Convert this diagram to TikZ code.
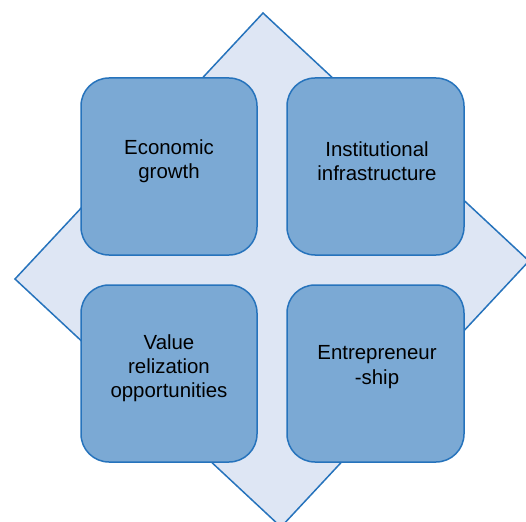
\documentclass[tikz,border=0pt]{standalone}
\usepackage{fontspec}
\setmainfont{Liberation Sans}
\begin{document}
\begin{tikzpicture}[x=1bp,y=-1bp,
  quad/.style={draw=edgeblue,line width=1.5bp,fill=boxblue,rounded corners=28bp},
  lbl/.style={align=center,font=\fontsize{20.5}{24.3}\selectfont,text=black,inner sep=0pt}]
\definecolor{edgeblue}{HTML}{2673BC}
\definecolor{boxblue}{HTML}{7BA9D4}
\definecolor{diafill}{HTML}{DEE6F4}
\useasboundingbox (0,0) rectangle (526,522);
\begin{scope}
\clip (0,0) rectangle (526,522);
\draw[draw=edgeblue,line width=1.5bp,fill=diafill] (263,13) -- (15,279) -- (281,527) -- (529,261) -- cycle;
\end{scope}
\draw[quad] (81,78) rectangle (257,255);
\draw[quad] (287,78) rectangle (464,255);
\draw[quad] (81,285) rectangle (257,462);
\draw[quad] (287,285) rectangle (464,462);
\node[lbl] (eg) at (169,161) {Economic\\growth};
\node[lbl] (ii) at (377,161) {Institutional\\infrastructure};
\node[lbl] (vr) at (169,368) {Value\\relization\\opportunities};
\node[lbl] (en) at (377,367) {Entrepreneur\\-ship};
\end{tikzpicture}
\end{document}
